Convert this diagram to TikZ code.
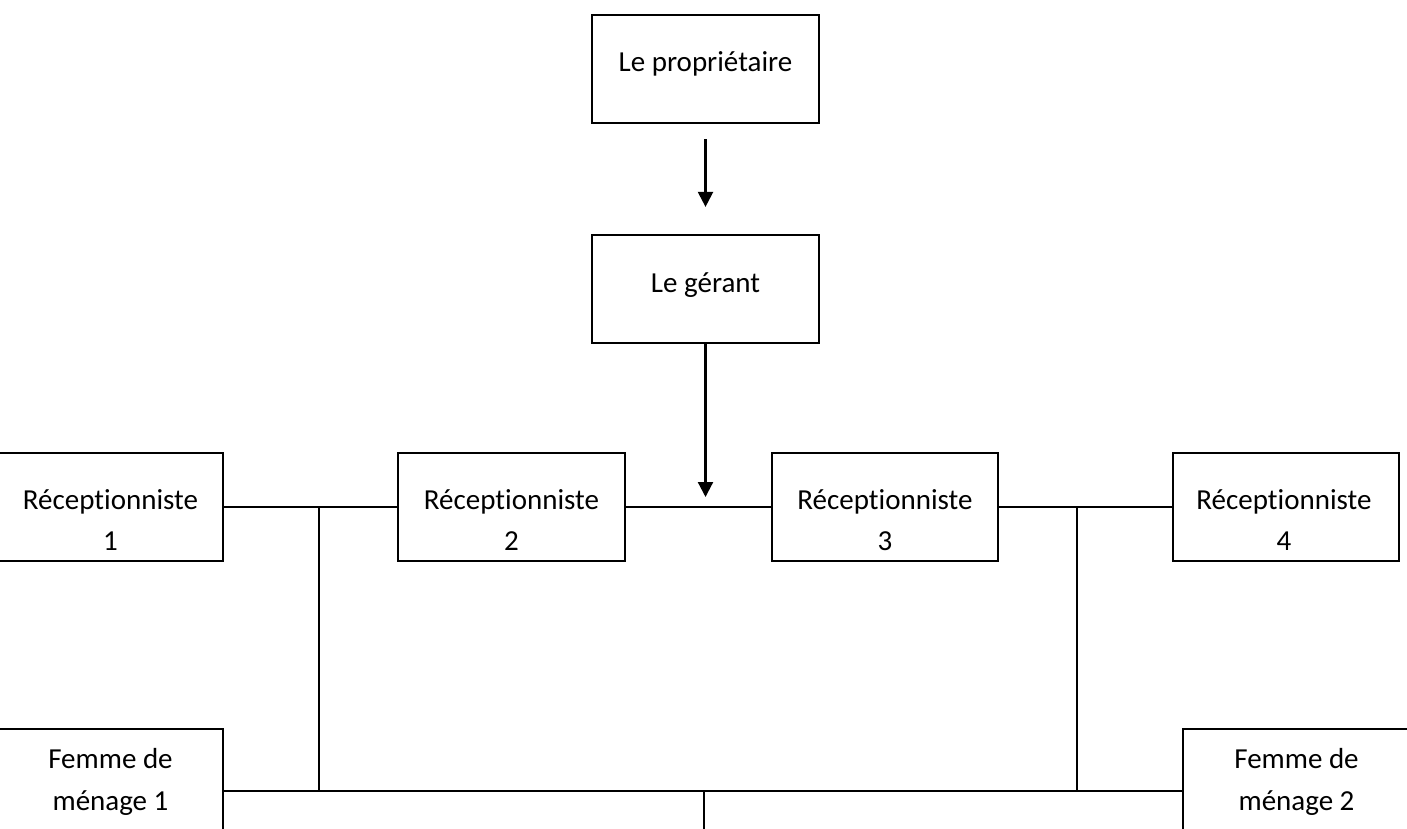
\documentclass[tikz,border=0pt]{standalone}
\usepackage{fontspec}
\setmainfont{Carlito}[RawFeature=-liga]
\usetikzlibrary{arrows.meta,calc}
\begin{document}
\begin{tikzpicture}[x=1pt,y=-1pt,
  box/.style={draw,line width=2.2pt,inner sep=0pt,minimum height=108pt},
  txt/.style={anchor=base,inner sep=0pt,font=\fontsize{29}{33}\selectfont},
  conn/.style={line width=2.2pt},
  arr/.style={line width=2.2pt,-{Triangle[width=15pt,length=15pt]}}]
\useasboundingbox (0,0) rectangle (1407,828);
\clip (0,0) rectangle (1407,828);
% boxes
\node[box,minimum width=227pt] (prop) at (705.5,69) {};
\node[box,minimum width=227pt] (gerant) at (705.5,289) {};
\node[box,minimum width=225pt] (r1) at (110.5,507) {};
\node[box,minimum width=227pt] (r2) at (511.5,507) {};
\node[box,minimum width=226pt] (r3) at (885,507) {};
\node[box,minimum width=226pt] (r4) at (1286,507) {};
\node[box,minimum width=225pt,minimum height=141pt] (fm1) at (110.5,799.5) {};
\node[box,minimum width=227pt,minimum height=141pt] (fm2) at (1296.5,799.5) {};
% texts
\node[txt] (tprop) at (705.5,71) {Le propriétaire};
\node[txt] (tgerant) at (705.5,292) {Le gérant};
\node[txt] (tr1a) at (110.5,509) {Réceptionniste};
\node[txt] (tr1b) at (110.5,550) {1};
\node[txt] (tr2a) at (511.5,509) {Réceptionniste};
\node[txt] (tr2b) at (511.5,550) {2};
\node[txt] (tr3a) at (885,509) {Réceptionniste};
\node[txt] (tr3b) at (885,550) {3};
\node[txt] (tr4a) at (1284,509) {Réceptionniste};
\node[txt] (tr4b) at (1284,550) {4};
\node[txt] (tfm1a) at (110.5,768) {Femme de};
\node[txt] (tfm1b) at (110.5,810) {ménage 1};
\node[txt] (tfm2a) at (1296.5,768) {Femme de};
\node[txt] (tfm2b) at (1296.5,810) {ménage 2};
% connectors
\draw[arr] ($(prop.south)+(0,15)$) -- ($(gerant.north)+(0,-27)$);
\coordinate (tip) at (705.5,497);
\draw[arr] (gerant.south) -- (tip);
\draw[conn] (r1.east) -- (r2.west);
\draw[conn] (r2.east) -- (r3.west);
\draw[conn] (r3.east) -- (r4.west);
\coordinate (j1) at (319,507);
\coordinate (j2) at (1077,507);
\coordinate (b1) at (319,791);
\coordinate (b2) at (1077,791);
\coordinate (bm) at (704,791);
\coordinate (bend) at (704,832);
\draw[conn] (j1) -- (b1);
\draw[conn] (j2) -- (b2);
\draw[conn] (fm1.north east |- b1) -- (fm2.north west |- b1);
\draw[conn] (bm) -- (bend);
\end{tikzpicture}
\end{document}
